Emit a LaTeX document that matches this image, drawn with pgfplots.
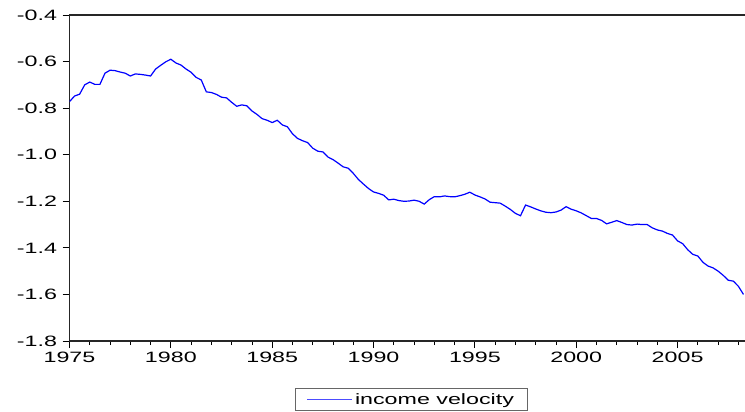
\documentclass[border=0pt]{standalone}
\usepackage{fontspec}
\setmainfont{Liberation Sans}[FakeStretch=1.55]
\usepackage{pgfplots}
\pgfplotsset{compat=1.18}
\begin{document}
\begin{tikzpicture}
\begin{axis}[
  at={(69.5bp,71bp)}, anchor=south west,
  scale only axis, width=677bp, height=326bp,
  xmin=1975, xmax=2008.4, ymin=-1.8, ymax=-0.4,
  xtick={1975,1980,1985,1990,1995,2000,2005},
  xticklabels={1975,1980,1985,1990,1995,2000,2005},
  minor xtick={1976,1977,1978,1979,1981,1982,1983,1984,1986,1987,1988,1989,1991,1992,1993,1994,1996,1997,1998,1999,2001,2002,2003,2004,2006,2007,2008},
  ytick={-1.8,-1.6,-1.4,-1.2,-1.0,-0.8,-0.6,-0.4},
  yticklabels={-1.8,-1.6,-1.4,-1.2,-1.0,-0.8,-0.6,-0.4},
  tick align=outside, xtick pos=bottom, ytick pos=left,
  major tick length=7bp, minor tick length=4bp,
  tick style={black, line width=0.8bp},
  minor tick style={black, line width=0.8bp},
  axis line style={black!85, line width=1.1bp},
  ticklabel style={font=\fontsize{15bp}{18bp}\selectfont},
  xticklabel style={yshift=-1bp},
  yticklabel style={xshift=-2bp},
  legend style={at={(0.505,-0.144)}, anchor=north, draw=black!60, line width=0.8bp,
    font=\fontsize{15bp}{18bp}\selectfont, inner xsep=11bp, inner ysep=3bp},
  legend image code/.code={\draw[blue!70, line width=1.2bp] (0bp,0bp) -- (45bp,0bp);},
  legend cell align=left,
]
\addplot[blue, line width=1.2bp] table[row sep=\\] {
x y\\
1975.00 -0.772\\ 1975.25 -0.748\\ 1975.50 -0.740\\ 1975.75 -0.700\\
1976.00 -0.688\\ 1976.25 -0.698\\ 1976.50 -0.698\\ 1976.75 -0.650\\
1977.00 -0.637\\ 1977.25 -0.639\\ 1977.50 -0.645\\ 1977.75 -0.650\\
1978.00 -0.662\\ 1978.25 -0.653\\ 1978.50 -0.655\\ 1978.75 -0.658\\
1979.00 -0.662\\ 1979.25 -0.632\\ 1979.50 -0.616\\ 1979.75 -0.601\\
1980.00 -0.590\\ 1980.25 -0.606\\ 1980.50 -0.615\\ 1980.75 -0.632\\
1981.00 -0.646\\ 1981.25 -0.668\\ 1981.50 -0.679\\ 1981.75 -0.730\\
1982.00 -0.733\\ 1982.25 -0.741\\ 1982.50 -0.753\\ 1982.75 -0.756\\
1983.00 -0.775\\ 1983.25 -0.792\\ 1983.50 -0.786\\ 1983.75 -0.790\\
1984.00 -0.812\\ 1984.25 -0.827\\ 1984.50 -0.845\\ 1984.75 -0.852\\
1985.00 -0.862\\ 1985.25 -0.852\\ 1985.50 -0.872\\ 1985.75 -0.880\\
1986.00 -0.910\\ 1986.25 -0.930\\ 1986.50 -0.940\\ 1986.75 -0.948\\
1987.00 -0.972\\ 1987.25 -0.985\\ 1987.50 -0.988\\ 1987.75 -1.010\\
1988.00 -1.021\\ 1988.25 -1.036\\ 1988.50 -1.052\\ 1988.75 -1.058\\
1989.00 -1.080\\ 1989.25 -1.106\\ 1989.50 -1.126\\ 1989.75 -1.145\\
1990.00 -1.160\\ 1990.25 -1.166\\ 1990.50 -1.174\\ 1990.75 -1.194\\
1991.00 -1.191\\ 1991.25 -1.197\\ 1991.50 -1.200\\ 1991.75 -1.199\\
1992.00 -1.195\\ 1992.25 -1.200\\ 1992.50 -1.212\\ 1992.75 -1.193\\
1993.00 -1.180\\ 1993.25 -1.181\\ 1993.50 -1.177\\ 1993.75 -1.180\\
1994.00 -1.181\\ 1994.25 -1.176\\ 1994.50 -1.170\\ 1994.75 -1.161\\
1995.00 -1.173\\ 1995.25 -1.181\\ 1995.50 -1.190\\ 1995.75 -1.204\\
1996.00 -1.206\\ 1996.25 -1.208\\ 1996.50 -1.221\\ 1996.75 -1.235\\
1997.00 -1.252\\ 1997.25 -1.262\\ 1997.50 -1.216\\ 1997.75 -1.224\\
1998.00 -1.233\\ 1998.25 -1.241\\ 1998.50 -1.247\\ 1998.75 -1.249\\
1999.00 -1.246\\ 1999.25 -1.238\\ 1999.50 -1.223\\ 1999.75 -1.234\\
2000.00 -1.241\\ 2000.25 -1.250\\ 2000.50 -1.262\\ 2000.75 -1.274\\
2001.00 -1.274\\ 2001.25 -1.282\\ 2001.50 -1.297\\ 2001.75 -1.290\\
2002.00 -1.283\\ 2002.25 -1.291\\ 2002.50 -1.300\\ 2002.75 -1.302\\
2003.00 -1.298\\ 2003.25 -1.300\\ 2003.50 -1.300\\ 2003.75 -1.314\\
2004.00 -1.323\\ 2004.25 -1.328\\ 2004.50 -1.338\\ 2004.75 -1.345\\
2005.00 -1.370\\ 2005.25 -1.382\\ 2005.50 -1.408\\ 2005.75 -1.428\\
2006.00 -1.435\\ 2006.25 -1.462\\ 2006.50 -1.478\\ 2006.75 -1.486\\
2007.00 -1.500\\ 2007.25 -1.518\\ 2007.50 -1.539\\ 2007.75 -1.543\\
2008.00 -1.565\\ 2008.25 -1.600\\
};
\addlegendentry{income velocity}
\end{axis}
\pgfresetboundingbox
\useasboundingbox (0,0) rectangle (745bp,412bp);
\end{tikzpicture}
\end{document}
